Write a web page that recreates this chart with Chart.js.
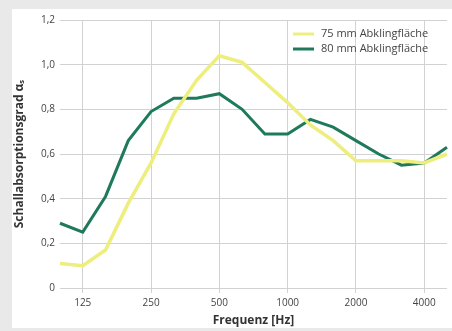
<!DOCTYPE html>
<html>
<head>
<meta charset="utf-8">
<script src="https://cdn.jsdelivr.net/npm/chart.js@4"></script>
<style>
  html, body { margin: 0; padding: 0; background: #e9e9e9; }
  #wrap { position: absolute; left: 12px; top: 9px; width: 440px; height: 319px; background: #fff; }
</style>
</head>
<body>
<div id="wrap"><canvas id="c"></canvas></div>
<script>
// Terzband-Frequenzen [Hz]
var freqs = ['100', '125', '160', '200', '250', '315', '400', '500', '630', '800',
             '1000', '1250', '1600', '2000', '2500', '3150', '4000', '5000'];
var shownFreqs = ['125', '250', '500', '1000', '2000', '4000'];

var alpha75 = [0.11, 0.10, 0.17, 0.38, 0.56, 0.78, 0.93, 1.04, 1.01, 0.92,
               0.83, 0.73, 0.66, 0.57, 0.57, 0.57, 0.56, 0.60];
var alpha80 = [0.29, 0.25, 0.41, 0.66, 0.79, 0.85, 0.85, 0.87, 0.80, 0.69,
               0.69, 0.755, 0.72, 0.66, 0.60, 0.55, 0.56, 0.63];

var yTicks = [0, 0.2, 0.4, 0.6, 0.8, 1.0, 1.2];
var seriesNames = ['75 mm Abklingfläche', '80 mm Abklingfläche'];
var seriesColors = ['#eeee7c', '#1f7a5c'];

var legendPlugin = {
  id: 'cornerLegend',
  afterDraw: function (chart) {
    var ctx = chart.ctx;
    var a = chart.chartArea;
    ctx.save();
    ctx.font = '11px "Open Sans", sans-serif';
    ctx.textBaseline = 'middle';
    for (var i = 0; i < seriesNames.length; i++) {
      var y = a.top + 14 + i * 15;
      var x = a.right - 154;
      ctx.strokeStyle = seriesColors[i];
      ctx.lineWidth = 3;
      ctx.beginPath();
      ctx.moveTo(x, y);
      ctx.lineTo(x + 21, y);
      ctx.stroke();
      ctx.fillStyle = '#444';
      ctx.fillText(seriesNames[i], x + 28, y);
    }
    ctx.restore();
  }
};

new Chart(document.getElementById('c'), {
  type: 'line',
  data: {
    labels: freqs,
    datasets: [
      { label: seriesNames[0], data: alpha75, borderColor: seriesColors[0], borderWidth: 3.5,
        pointRadius: 0, tension: 0, fill: false },
      { label: seriesNames[1], data: alpha80, borderColor: seriesColors[1], borderWidth: 3,
        pointRadius: 0, tension: 0, fill: false }
    ]
  },
  options: {
    responsive: true,
    maintainAspectRatio: false,
    animation: false,
    layout: { padding: { top: 10, right: 5, left: 0, bottom: 0 } },
    plugins: { legend: { display: false }, tooltip: { enabled: false } },
    scales: {
      x: {
        offset: false,
        border: { display: false },
        grid: {
          color: function (c) {
            return c.tick && shownFreqs.indexOf(freqs[c.tick.value]) >= 0 ? '#d2d2d2' : 'rgba(0,0,0,0)';
          },
          tickLength: 5
        },
        ticks: {
          autoSkip: false, maxRotation: 0, color: '#444', padding: 4,
          font: { family: 'Open Sans', size: 10 },
          callback: function (v) {
            return shownFreqs.indexOf(freqs[v]) >= 0 ? freqs[v] : '';
          }
        },
        title: { display: true, text: 'Frequenz [Hz]', color: '#333', padding: 0,
                 font: { family: 'Open Sans', size: 12, weight: 'bold' } },
        afterFit: function (s) { s.height = 40; }
      },
      y: {
        min: 0, max: 1.2,
        border: { display: false },
        grid: { color: '#d2d2d2', drawTicks: false },
        afterBuildTicks: function (s) { s.ticks = yTicks.map(function (v) { return { value: v }; }); },
        ticks: {
          color: '#444', padding: 5,
          font: { family: 'Open Sans', size: 10 },
          callback: function (v) { return v === 0 ? '0' : v.toFixed(1).replace('.', ','); }
        },
        title: { display: true, text: 'Schallabsorptionsgrad αₛ', color: '#333', padding: 0,
                 font: { family: 'Open Sans', size: 12, weight: 'bold' } },
        afterFit: function (s) { s.width = 48; }
      }
    }
  },
  plugins: [legendPlugin]
});
</script>
</body>
</html>
